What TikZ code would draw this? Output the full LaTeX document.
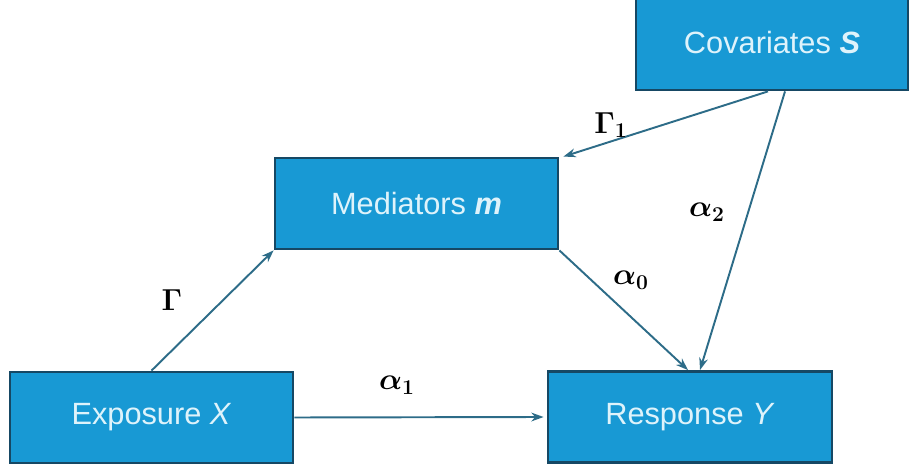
\documentclass[tikz,border=0pt]{standalone}
\usepackage[no-math]{fontspec}
\usepackage{amsmath}
\setmainfont{Liberation Sans}
\usetikzlibrary{arrows.meta}

\definecolor{boxfill}{RGB}{24,153,212}
\definecolor{boxline}{RGB}{22,72,100}
\definecolor{boxtext}{RGB}{222,243,251}
\definecolor{arrowcol}{RGB}{45,108,136}

\tikzset{
  varbox/.style={draw=boxline, line width=1.6pt, fill=boxfill, text=boxtext,
    minimum width=283*0.02cm, minimum height=91*0.02cm, inner sep=0pt,
    font=\fontsize{17.5}{20}\selectfont},
  path/.style={draw=arrowcol, line width=1.1pt, -{Stealth[length=7pt,width=5pt]}},
  coef/.style={font=\fontsize{17}{20}\selectfont}
}

\begin{document}
\begin{tikzpicture}[x=0.02cm, y=-0.02cm]

\useasboundingbox (0,0) rectangle (910,469);

\node[varbox, minimum width=272*0.02cm, minimum height=94*0.02cm] (cov) at (772, 43) {Covariates \textbf{\textit{S}}};
\node[varbox] (med) at (416.5, 203.5) {Mediators \textbf{\textit{m}}};
\node[varbox] (expo) at (151.5, 417.5) {Exposure \textit{X}};
\node[varbox, minimum width=284*0.02cm] (resp) at (690, 417) {Response \textit{Y}};

\draw[path] (expo.north) -- (med.south west);
\draw[path] (expo.east) -- ([xshift=-3*0.02cm]resp.west);
\draw[path] (med.south east) -- ([xshift=-2*0.02cm]resp.north);
\draw[path] ([xshift=-4*0.02cm]cov.south) -- ([xshift=4*0.02cm]med.north east);
\draw[path] ([xshift=13*0.02cm]cov.south) -- ([xshift=10*0.02cm]resp.north);

\node[coef] (gam) at (172, 300) {$\mathbf{\Gamma}$};
\node[coef] (alpha1) at (397, 385) {$\boldsymbol{\alpha}_{\mathbf{1}}$};
\node[coef] (alpha0) at (631, 280) {$\boldsymbol{\alpha}_{\mathbf{0}}$};
\node[coef] (gam1) at (611, 125) {$\mathbf{\Gamma}_{\mathbf{1}}$};
\node[coef] (alpha2) at (707, 212) {$\boldsymbol{\alpha}_{\mathbf{2}}$};

\end{tikzpicture}
\end{document}
